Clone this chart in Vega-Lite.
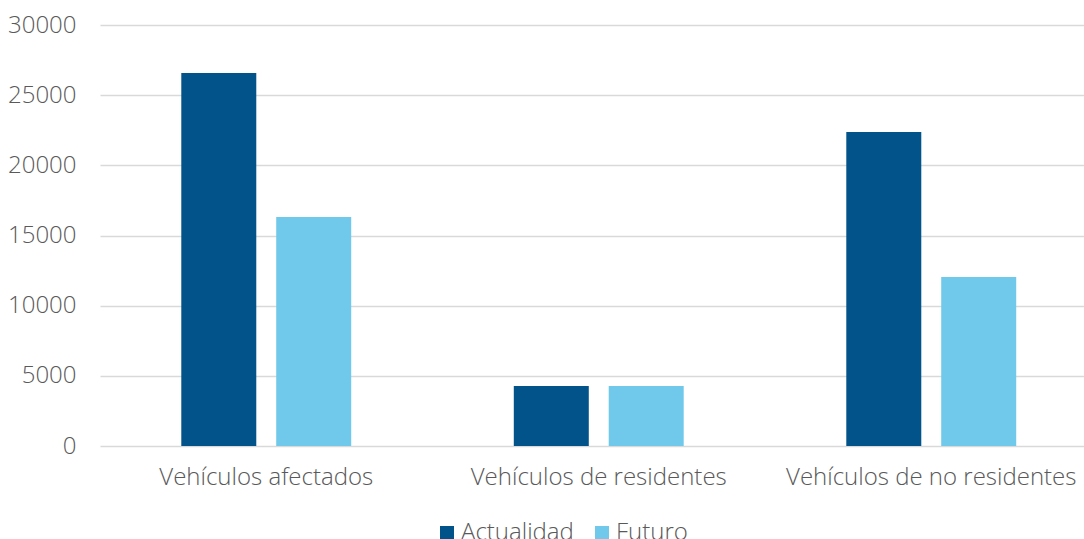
{
  "$schema": "https://vega.github.io/schema/vega-lite/v6.json",
  "autosize": "none",
  "width": 984,
  "height": 421,
  "padding": {"left": 100, "top": 25, "right": 0, "bottom": 93},
  "background": "white",
  "config": {
    "view": {"stroke": null},
    "font": "Open Sans"
  },
  "data": {
    "values": [
      {"categoria": "Vehículos afectados", "serie": "Actualidad", "valor": 26580},
      {"categoria": "Vehículos afectados", "serie": "Futuro", "valor": 16320},
      {"categoria": "Vehículos de residentes", "serie": "Actualidad", "valor": 4280},
      {"categoria": "Vehículos de residentes", "serie": "Futuro", "valor": 4280},
      {"categoria": "Vehículos de no residentes", "serie": "Actualidad", "valor": 22370},
      {"categoria": "Vehículos de no residentes", "serie": "Futuro", "valor": 12040}
    ]
  },
  "mark": {"type": "bar"},
  "encoding": {
    "x": {
      "field": "categoria",
      "type": "nominal",
      "sort": null,
      "scale": {"range": [0, 997.5], "paddingInner": 0.489, "paddingOuter": 0.2445},
      "axis": {
        "title": null,
        "labelAngle": 0,
        "domain": false,
        "ticks": false,
        "labelFont": "Open Sans",
        "labelFontWeight": 300,
        "labelFontSize": 24,
        "labelColor": "#595959",
        "labelPadding": 19,
        "labelLimit": 0
      }
    },
    "xOffset": {
      "field": "serie",
      "type": "nominal",
      "scale": {"paddingInner": 0.21, "paddingOuter": 0}
    },
    "y": {
      "field": "valor",
      "type": "quantitative",
      "scale": {"domain": [0, 30000], "nice": false},
      "axis": {
        "title": null,
        "values": [0, 5000, 10000, 15000, 20000, 25000, 30000],
        "format": "d",
        "domain": false,
        "ticks": false,
        "grid": true,
        "gridColor": "#D9D9D9",
        "gridWidth": 1.5,
        "labelFont": "Open Sans",
        "labelFontWeight": 300,
        "labelFontSize": 24,
        "labelColor": "#595959",
        "labelPadding": 24
      }
    },
    "color": {
      "field": "serie",
      "type": "nominal",
      "scale": {"domain": ["Actualidad", "Futuro"], "range": ["#02538A", "#70C9EB"]},
      "legend": {
        "title": null,
        "orient": "none",
        "direction": "horizontal",
        "legendX": 335,
        "legendY": 496,
        "symbolType": "square",
        "symbolSize": 196,
        "symbolStrokeWidth": 0,
        "symbolOpacity": 1,
        "labelFont": "Open Sans",
        "labelFontWeight": 300,
        "labelFontSize": 24,
        "labelColor": "#595959",
        "labelOffset": 2,
        "columnPadding": 16
      }
    }
  }
}
